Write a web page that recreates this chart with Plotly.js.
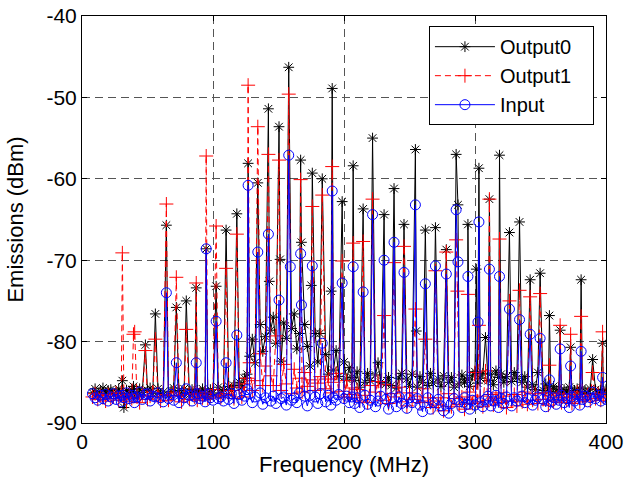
<!DOCTYPE html>
<html>
<head>
<meta charset="utf-8">
<script src="https://cdn.plot.ly/plotly-3.0.1.min.js"></script>
<style>html,body{margin:0;padding:0;background:#fff;}#chart{width:624px;height:477px;}</style>
</head>
<body>
<div id="chart"></div>
<script>
// Harmonic peak frequencies (MHz), shared by all three series
const peakFreq = [30.8, 39.3, 48.4, 56.0, 64.4, 72.0, 79.6, 87.2, 94.8, 102.4, 110.0, 118.2, 126.8, 134.2, 142.3, 150.4, 157.8, 166.9, 175.8, 183.4, 191.0, 198.6, 207.0, 214.6, 221.8, 230.6, 238.2, 245.8, 254.5, 262.1, 269.8, 278.1, 285.6, 294.6, 303.0, 311.0, 318.7, 326.3, 334.0, 342.1, 349.7, 356.8, 365.0, 373.0, 381.0, 389.8, 397.4];

// Peak levels (dBm)
const output0Peaks = [-84.8, -85.5, -80.4, -76.6, -65.7, -75.8, -75.0, -73.4, -68.6, -73.2, -66.3, -64.3, -58.1, -60.5, -51.4, -53.6, -46.3, -57.7, -59.3, -60.0, -48.9, -62.8, -58.4, -63.7, -55.0, -64.4, -61.2, -65.6, -56.4, -66.3, -66.0, -68.7, -57.0, -65.6, -58.7, -62.5, -57.1, -66.6, -65.3, -72.4, -71.6, -76.8, -78.6, -80.7, -72.4, -82.2, -80.2];
const output1Peaks = [-69.1, -79.1, -81.1, -79.7, -63.1, -72.1, -78.5, -72.8, -57.2, -65.8, -71.0, -66.8, -48.5, -53.6, -57.0, -57.7, -49.6, -60.1, -63.4, -62.0, -58.5, -70.1, -67.9, -67.7, -62.5, -76.8, -70.3, -68.3, -76.0, -79.7, -71.3, -69.0, -67.5, -74.2, -78.0, -62.5, -67.4, -75.0, -73.7, -74.5, -74.1, -82.9, -78.0, -79.1, -76.9, -83.8, -78.8];
const inputPeaks = [-86.6, -86.9, -86.5, -86.8, -74.0, -82.6, -85.8, -82.6, -68.6, -77.5, -82.6, -79.2, -60.8, -69.0, -66.8, -74.9, -57.1, -69.2, -70.7, -80.2, -61.5, -72.8, -70.8, -73.9, -64.4, -70.0, -67.8, -71.5, -63.2, -72.9, -70.7, -71.7, -63.8, -72.0, -65.3, -71.1, -72.0, -76.0, -77.3, -79.1, -79.6, -84.7, -80.9, -83.0, -81.2, -86.2, -84.4];

// Shoulder samples next to some peaks
const output0ExtraFreq = [143.0, 151.2, 167.5, 175.0, 181.6, 190.2, 255.2, 287.0, 301.0];
const output0ExtraVals = [-72.6, -69.9, -67.8, -73.1, -79.0, -73.8, -78.7, -63.2, -71.1];
const output1ExtraFreq = [40.2, 286.6];
const output1ExtraVals = [-78.8, -73.8];
const inputExtraFreq = [159.0, 167.5, 287.0, 302.3];
const inputExtraVals = [-70.8, -75.5, -70.2, -77.6];

// Noise-floor samples every 2 MHz from 8 to 400 MHz
const floorStart = 8, floorStep = 2;
const output0Floor = [
-86.3,-85.8,-86.6,-86.1,-85.7,-86.4,-86.0,-85.9,-86.5,-86.2,
-85.8,-86.4,-88.1,-86.0,-86.5,-85.9,-86.3,-86.7,-85.8,-86.2,
-86.6,-86.0,-85.7,-86.4,-86.1,-85.8,-86.5,-86.2,-85.9,-86.6,
-86.1,-85.7,-86.3,-86.0,-86.6,-85.8,-86.2,-86.5,-85.9,-86.3,
-86.0,-86.4,-85.8,-86.2,-86.7,-85.9,-86.3,-86.0,-85.6,-86.4,
-85.9,-86.2,-85.5,-86.0,-85.4,-85.8,-85.0,-85.6,-84.5,-84.0,
-81.8,-79.7,-82.6,-80.5,-77.9,-81.2,-79.4,-82.0,-78.6,-77.0,
-80.2,-78.1,-82.4,-77.7,-79.6,-81.8,-78.4,-76.6,-80.9,-79.0,
-82.0,-77.9,-80.6,-83.0,-81.1,-79.0,-82.5,-80.3,-83.4,-81.6,
-84.0,-82.2,-83.5,-81.1,-84.3,-82.8,-82.5,-84.6,-83.2,-84.4,
-84.8,-83.7,-85.6,-84.2,-85.0,-83.9,-84.8,-85.5,-84.1,-82.6,
-85.0,-83.8,-85.2,-84.4,-85.4,-84.0,-85.7,-84.5,-83.9,-85.3,
-84.6,-85.5,-84.0,-84.8,-85.6,-84.3,-85.0,-84.7,-85.4,-83.9,
-85.1,-81.3,-84.6,-85.5,-84.2,-79.7,-85.0,-84.4,-85.6,-84.8,
-85.2,-84.1,-85.0,-84.6,-85.5,-84.2,-83.7,-85.1,-84.5,-83.9,
-79.5,-84.8,-84.0,-85.3,-83.6,-84.4,-84.0,-85.0,-84.3,-83.8,
-84.9,-83.8,-84.5,-85.4,-85.0,-84.3,-85.6,-84.8,-85.3,-85.9,
-83.8,-85.6,-86.0,-85.2,-85.8,-86.3,-85.5,-86.1,-85.7,-86.4,
-85.9,-86.2,-85.6,-86.5,-86.0,-85.8,-86.3,-85.7,-86.1,-86.4,
-85.8,-86.2,-85.9,-86.5,-86.0,-86.3,-85.9];
const output1Floor = [
-86.8,-86.4,-87.1,-86.6,-86.9,-87.3,-86.5,-87.0,-86.7,-86.3,
-87.2,-86.6,-86.9,-87.4,-86.5,-87.0,-86.3,-86.8,-87.5,-86.6,
-86.4,-87.1,-86.7,-86.2,-87.0,-86.8,-87.3,-86.5,-86.9,-87.2,
-86.6,-86.3,-87.0,-86.7,-87.4,-86.5,-86.9,-87.1,-86.4,-86.8,
-87.2,-86.5,-86.9,-86.3,-87.0,-86.7,-85.9,-87.3,-86.6,-86.9,
-86.4,-87.1,-86.6,-86.0,-87.0,-86.5,-85.6,-86.8,-85.2,-84.5,
-82.6,-86.0,-84.8,-86.3,-81.5,-85.4,-83.0,-86.1,-84.2,-85.4,
-79.3,-84.6,-86.0,-82.8,-85.2,-84.0,-86.4,-83.4,-85.7,-84.5,
-86.2,-83.8,-85.5,-84.7,-83.4,-86.0,-85.1,-84.3,-82.8,-85.8,
-84.6,-86.3,-85.0,-83.9,-86.1,-85.4,-86.8,-84.8,-86.5,-85.7,
-86.9,-85.9,-87.3,-84.8,-86.6,-87.5,-85.4,-87.0,-86.2,-84.9,
-87.2,-86.0,-85.3,-87.6,-86.4,-88.0,-86.8,-85.6,-87.4,-86.6,
-87.9,-86.3,-87.1,-88.2,-86.7,-87.5,-85.8,-88.4,-86.9,-87.3,
-88.1,-86.6,-87.8,-86.9,-88.5,-87.2,-86.4,-88.0,-87.0,-86.5,
-87.7,-86.8,-88.3,-87.1,-86.2,-87.6,-83.8,-87.4,-86.7,-88.0,
-83.6,-87.2,-86.5,-87.8,-86.9,-86.3,-87.5,-86.7,-88.1,-86.8,
-87.3,-86.5,-87.9,-86.8,-87.4,-86.2,-87.7,-86.9,-87.2,-86.4,
-87.6,-86.7,-87.1,-86.3,-87.8,-86.6,-87.3,-86.9,-86.4,-87.5,
-86.8,-87.2,-86.5,-87.6,-86.9,-86.2,-87.4,-86.7,-87.1,-86.5,
-87.3,-86.6,-87.0,-86.4,-87.2,-86.8,-86.5];
const inputFloor = [
-86.4,-86.9,-87.2,-86.6,-87.0,-86.5,-87.3,-86.8,-86.4,-87.1,
-86.7,-87.4,-86.9,-86.3,-87.0,-86.6,-87.5,-86.8,-86.2,-87.1,
-86.9,-86.4,-87.3,-86.7,-87.0,-86.3,-86.9,-87.4,-86.6,-87.0,
-86.5,-87.2,-86.8,-87.5,-86.4,-86.9,-87.1,-86.6,-87.3,-86.8,
-86.4,-87.0,-86.7,-87.4,-86.5,-86.9,-87.2,-86.3,-87.0,-86.8,
-87.3,-86.6,-87.1,-86.4,-87.6,-86.9,-86.5,-87.2,-86.7,-85.9,
-86.4,-87.5,-86.8,-87.2,-86.3,-87.7,-86.9,-86.5,-87.3,-86.7,
-87.6,-86.4,-87.0,-86.8,-87.8,-86.5,-87.2,-86.9,-87.5,-86.3,
-87.1,-86.7,-87.9,-86.6,-87.3,-86.8,-87.6,-86.4,-87.0,-87.4,
-86.6,-87.8,-86.9,-87.2,-86.5,-87.9,-87.0,-86.7,-87.5,-86.8,
-87.6,-86.9,-88.1,-87.0,-86.6,-87.7,-87.2,-86.8,-88.0,-87.3,
-86.7,-87.9,-87.1,-88.3,-86.9,-87.4,-88.0,-86.8,-87.6,-87.2,
-88.2,-86.9,-87.5,-88.4,-87.0,-87.8,-88.6,-87.2,-86.9,-88.3,
-87.5,-88.7,-87.1,-87.9,-88.5,-87.3,-88.8,-87.6,-87.0,-88.4,
-87.4,-88.1,-86.9,-87.7,-88.3,-87.2,-87.8,-86.8,-87.5,-88.0,
-87.1,-86.7,-87.9,-87.3,-86.6,-88.1,-87.0,-87.6,-86.8,-87.4,
-87.9,-86.9,-87.3,-88.2,-86.7,-87.5,-87.0,-86.6,-87.8,-87.2,
-86.8,-87.6,-87.1,-88.0,-86.7,-87.4,-86.9,-87.7,-87.2,-86.6,
-87.5,-87.0,-88.1,-86.8,-87.3,-86.5,-87.8,-87.1,-86.7,-87.4,
-86.9,-87.6,-87.0,-86.6,-87.3,-86.8,-87.1];

const seriesNames = ['Output0', 'Output1', 'Input'];
const xTickVals = [0, 100, 200, 300, 400];
const xTickText = ['0', '100', '200', '300', '400'];
const yTickVals = [-90, -80, -70, -60, -50, -40];
const yTickText = ['-90', '-80', '-70', '-60', '-50', '-40'];

const floorFreq = output0Floor.map((_, i) => floorStart + floorStep * i);

function buildSeries(floorVals, peakVals, extraF, extraV) {
  const special = peakFreq.concat(extraF);
  const pts = [];
  floorFreq.forEach((f, i) => {
    if (!special.some(s => Math.abs(s - f) < 0.6)) pts.push([f, floorVals[i]]);
  });
  peakFreq.forEach((f, i) => pts.push([f, peakVals[i]]));
  extraF.forEach((f, i) => pts.push([f, extraV[i]]));
  pts.sort((a, b) => a[0] - b[0]);
  return { x: pts.map(p => p[0]), y: pts.map(p => p[1]) };
}

const s0 = buildSeries(output0Floor, output0Peaks, output0ExtraFreq, output0ExtraVals);
const s1 = buildSeries(output1Floor, output1Peaks, output1ExtraFreq, output1ExtraVals);
const s2 = buildSeries(inputFloor, inputPeaks, inputExtraFreq, inputExtraVals);

// trailing non-breaking spaces give the legend box its right-hand padding
const legendPad = '\u00a0\u00a0\u00a0';

const traces = [
  { x: s0.x, y: s0.y, name: seriesNames[0] + legendPad, type: 'scatter', mode: 'lines+markers',
    line: { color: '#000000', width: 1 },
    marker: { symbol: 'asterisk-open', size: 9, color: '#000000', line: { color: '#000000', width: 1 } } },
  { x: s1.x, y: s1.y, name: seriesNames[1] + legendPad, type: 'scatter', mode: 'lines+markers',
    line: { color: '#ff0000', width: 1, dash: '6px,4px' },
    marker: { symbol: 'cross-thin-open', size: 10, color: '#ff0000', line: { color: '#ff0000', width: 1 } } },
  { x: s2.x, y: s2.y, name: seriesNames[2] + legendPad, type: 'scatter', mode: 'lines+markers',
    line: { color: '#0000ff', width: 1 },
    marker: { symbol: 'circle-open', size: 10, color: '#0000ff', line: { color: '#0000ff', width: 1 } } }
];

const fontFam = 'Liberation Sans, Arial, Helvetica, sans-serif';
const layout = {
  width: 624, height: 477,
  margin: { l: 82, r: 18, t: 16, b: 54, pad: 0 },
  paper_bgcolor: '#ffffff', plot_bgcolor: '#ffffff',
  font: { family: fontFam, size: 21, color: '#000000' },
  showlegend: true,
  legend: {
    x: 0.977, y: 0.975, xanchor: 'right', yanchor: 'top',
    bgcolor: '#ffffff', bordercolor: '#000000', borderwidth: 1,
    font: { family: fontFam, size: 20, color: '#000000' },
    tracegroupgap: 0, itemwidth: 60
  },
  xaxis: {
    range: [0, 400], tickmode: 'array', tickvals: xTickVals, ticktext: xTickText,
    showline: true, linecolor: '#000000', linewidth: 1, mirror: 'ticks',
    ticks: 'inside', ticklen: 5, tickcolor: '#000000', tickwidth: 1,
    showgrid: true, gridcolor: '#555555', gridwidth: 1, griddash: '8px,5px',
    zeroline: false,
    tickfont: { family: fontFam, size: 21, color: '#000000' },
    title: { text: 'Frequency (MHz)', font: { family: fontFam, size: 22, color: '#000000' }, standoff: 2 }
  },
  yaxis: {
    range: [-90, -40], tickmode: 'array', tickvals: yTickVals, ticktext: yTickText,
    showline: true, linecolor: '#000000', linewidth: 1, mirror: 'ticks',
    ticks: 'inside', ticklen: 5, tickcolor: '#000000', tickwidth: 1,
    showgrid: true, gridcolor: '#555555', gridwidth: 1, griddash: '8px,5px',
    zeroline: false,
    tickfont: { family: fontFam, size: 21, color: '#000000' },
    title: { text: 'Emissions (dBm)', font: { family: fontFam, size: 22, color: '#000000' }, standoff: 16 }
  }
};

Plotly.newPlot('chart', traces, layout, { displayModeBar: false, staticPlot: true });
</script>
</body>
</html>
